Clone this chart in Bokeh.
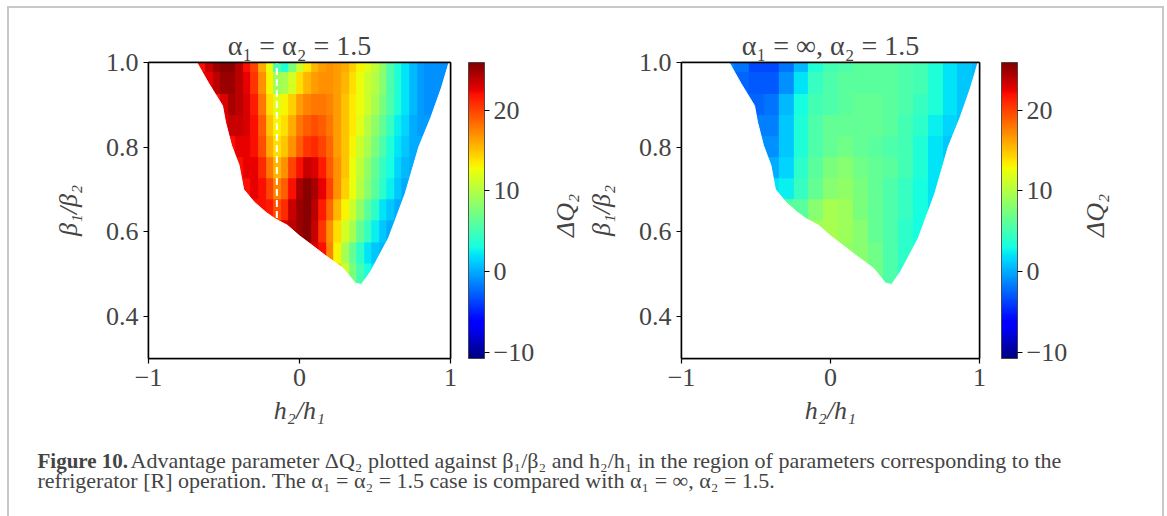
import numpy as np
from bokeh.plotting import figure
from bokeh.models import (LinearColorMapper, ColorBar, FixedTicker, Label, Range1d,
                          LinearAxis, Spacer)
from bokeh.layouts import column, row
from bokeh.embed import file_html
from bokeh.resources import INLINE

# ---------------- data ----------------
TITLE_L = "α₁ = α₂ = 1.5"
TITLE_R = "α₁ = ∞, α₂ = 1.5"
X_TICKS = [-1, 0, 1]
Y_TICKS = [0.4, 0.6, 0.8, 1.0]
CB_TICKS = [-10, 0, 10, 20]
CB_LOW, CB_HIGH = -10.8, 25.9

# grid rows: beta = 0.45, 0.50, ..., 1.00 (bottom to top)
BETA_ROWS = [0.45, 0.50, 0.55, 0.60, 0.65, 0.70, 0.75, 0.80, 0.85, 0.90, 0.95, 1.00]
# left panel columns: h = -0.70 ... 1.00 step 0.05
H_LEFT = [-0.70, -0.65, -0.60, -0.55, -0.50, -0.45, -0.40, -0.35, -0.30, -0.25, -0.20, -0.15,
          -0.10, -0.05, 0.00, 0.05, 0.10, 0.15, 0.20, 0.25, 0.30, 0.35, 0.40, 0.45, 0.50,
          0.55, 0.60, 0.65, 0.70, 0.75, 0.80, 0.85, 0.90, 0.95, 1.00]
DQ_LEFT = [
    [18]*19 + [14, 10, 7, 5, 3.5] + [2.5]*11,                                   # 0.45
    [22]*17 + [21, 18, 14.5, 11, 7.5, 5, 3, 2] + [2]*10,                        # 0.50
    [23]*17 + [22, 17.5, 13, 9.5, 6.5, 4, 2, 1, 0.5] + [0.5]*9,                 # 0.55
    [23]*13 + [24, 25, 25.5, 23.5, 20.5, 17, 14, 11.5, 9.5, 6.5, 4.5, 2.5, 1, 0, 0, 0, 0, 0, 0, 0, 0, 0],  # 0.60
    [22]*10 + [21.5, 19.5, 21, 23.5, 25, 25.5, 24, 21.5, 18.5, 15.5, 13, 11, 8.5, 6, 4, 2, 1, 0, 0, 0, 0, 0, 0, 0, 0],  # 0.65
    [22]*8 + [22.5, 22, 20, 17.5, 19, 22, 24.5, 25.5, 24.5, 22.5, 20, 17, 14.5, 12.5, 10, 8, 6, 4, 2.5, 1, 0, 0, 0, 0, 0, 0, 0],  # 0.70
    [22]*7 + [22.5, 22.5, 21, 18, 15.5, 17, 20, 22, 23.5, 23, 21.5, 19, 17, 15, 12.5, 10.5, 8.5, 6.5, 4.5, 3, 1.5, 0.5, 0, 0, 0, 0, 0, 0],  # 0.75
    [22]*6 + [22.5, 22.5, 22, 19.5, 16, 14, 15, 17, 19, 20.5, 21, 20, 18.5, 16.5, 15, 13, 11, 9.5, 7.5, 5.5, 3.5, 2, 1, 0, 0, 0, 0, 0, 0],  # 0.80
    [22.5]*5 + [23.5, 23.5, 23, 22, 19, 15, 13, 14, 16, 18, 19, 19.5, 19, 18, 16.5, 15, 13.5, 12, 10, 8.5, 6.5, 4.5, 2.5, 1.5, 0, -0.5, -0.5, -0.5, -0.5, -0.5],  # 0.85
    [22, 22, 22, 22, 23, 24.5, 24, 23, 21.5, 18, 14, 12, 13, 14.5, 16.5, 17.5, 18, 18, 17.5, 16.5, 15, 13.5, 12.5, 11, 9.5, 7.5, 5.5, 3.5, 2, 0.5, -0.5, -1, -1, -1, -1],  # 0.90
    [22.5, 22.5, 22.5, 24, 25, 25, 24, 22.5, 20.5, 17, 13, 9, 9.5, 11.5, 14, 15.5, 16.5, 17, 17, 16.5, 15.5, 14, 12.5, 11, 10, 8, 5.5, 3.5, 2, 0.5, -0.5, -1, -1, -1, -1],  # 0.95
    [20, 22, 23.5, 25, 25.5, 25.5, 24, 22, 20, 16, 12.5, 5.5, 3.5, 7.5, 11, 13.5, 15.5, 16.5, 17, 16.5, 16, 14.5, 13, 12, 10.5, 8.5, 5.5, 3.5, 2, 0.5, -0.5, -1, -1, -1, -1],  # 1.00
]
# right panel columns: h = -0.7 ... 1.0 step 0.1
H_RIGHT = [-0.7, -0.6, -0.5, -0.4, -0.3, -0.2, -0.1, 0.0, 0.1, 0.2, 0.3, 0.4, 0.5, 0.6, 0.7, 0.8, 0.9, 1.0]
DQ_RIGHT = [
    [6.5]*10 + [6.5, 5, 4, 4, 4, 4, 4, 4],                                      # 0.45
    [7]*11 + [5.5, 4, 4, 4, 4, 4, 4],                                           # 0.50
    [8.5]*9 + [8, 7, 5.5, 4, 3, 3, 3, 3, 3],                                    # 0.55
    [9, 9, 9, 9, 9, 9, 9, 9.5, 9, 8, 6.5, 5.5, 4, 3, 3, 3, 3, 3],               # 0.60
    [6, 6, 6, 6, 6, 6, 8, 9.5, 9, 7.5, 6.5, 5.5, 4.5, 3, 2, 2, 2, 2],           # 0.65
    [2, 2, 2, 2, 2.5, 4.5, 6.5, 8, 8.5, 7.5, 6.5, 5.5, 4.5, 3, 2, 2, 2, 2],     # 0.70
    [0, 0, 0, 0, 1.5, 4, 6, 7.5, 8, 7, 6.5, 6, 5, 3.5, 2, 1.5, 1.5, 1.5],       # 0.75
    [-1, -1, -1, -1, 1, 3.5, 5.5, 6.5, 7, 6.5, 6, 5.5, 5, 3.5, 2, 1, 1, 1],     # 0.80
    [-1.5, -1.5, -1.5, -1.5, 1, 3.5, 5.5, 6.5, 6.5, 6.5, 6.5, 6, 5, 4, 2.5, 1.5, 1, 1],  # 0.85
    [-2.5, -2.5, -2.5, -2, 0.5, 3, 5, 5.5, 6, 6.5, 6.5, 6, 5.5, 4.5, 3.5, 2, 1, 1],      # 0.90
    [-2, -2.5, -3, -3, -1, 2, 4.5, 5.5, 6, 6, 6, 6, 5.5, 5, 3.5, 2, 1, 0.5],    # 0.95
    [-1, -2, -3.5, -3.5, -2, 0.5, 3.5, 5, 5.5, 6, 6, 6, 5.5, 5, 3.5, 2, 1, 0.5],# 1.00
]
# boundary of the refrigerator region (same in both panels)
EDGE_LEFT_H = [-0.68, -0.60, -0.51, -0.49, -0.45, -0.40, -0.37, -0.30, -0.22, -0.16, -0.08, 0.00, 0.09, 0.17, 0.29, 0.37, 0.41]
EDGE_LEFT_B = [1.00, 0.95, 0.898, 0.859, 0.804, 0.757, 0.700, 0.670, 0.645, 0.630, 0.615, 0.590, 0.566, 0.544, 0.513, 0.478, 0.475]
EDGE_RIGHT_H = [0.41, 0.47, 0.59, 0.70, 0.79, 0.87, 0.94, 0.99]
EDGE_RIGHT_B = [0.475, 0.505, 0.585, 0.690, 0.800, 0.870, 0.940, 1.000]
DASH_H = [-0.15, -0.15]
DASH_B = [0.632, 1.0]

CAPTION_BOLD = "Figure 10."
CAPTION_1 = ("Advantage parameter ΔQ₂ plotted against β₁/β₂ and h₂/h₁ in the region of "
             "parameters corresponding to the")
CAPTION_2 = "refrigerator [R] operation. The α₁ = α₂ = 1.5 case is compared with α₁ = ∞, α₂ = 1.5."
CB_LABEL = "ΔQ₂"

# ---------------- colour map (jet) ----------------
def jet(n=256):
    t = np.linspace(0, 1, n)
    r = np.interp(t, [0, 0.35, 0.66, 0.89, 1], [0, 0, 1, 1, 0.5])
    g = np.interp(t, [0, 0.125, 0.375, 0.64, 0.91, 1], [0, 0, 1, 1, 0, 0])
    b = np.interp(t, [0, 0.11, 0.34, 0.65, 1], [0.5, 1, 1, 0, 0])
    return ["#%02x%02x%02x" % (int(round(255 * a)), int(round(255 * c)), int(round(255 * d)))
            for a, c, d in zip(r, g, b)]

JET = jet()
SERIF = "Liberation Serif"
BORDER = "#c8c8c8"
ROW_H = 432
TOP_B, BOT_B = 54, 82


def gap(w, h):
    return Spacer(width=w, height=h)


def grey(w, h):
    return Spacer(width=w, height=h, styles={"background-color": BORDER})


def blank(width, height, top=0, bottom=0):
    f = figure(width=width, height=height, x_range=Range1d(0, 1), y_range=Range1d(0, 1),
               output_backend="svg", toolbar_location=None, x_axis_location=None,
               y_axis_location=None, min_border=0, min_border_top=top, min_border_bottom=bottom,
               outline_line_color=None)
    f.grid.visible = False
    return f


def panel(width, left, right, title, hcols, rows, dashed):
    p = figure(width=width, height=ROW_H, x_range=Range1d(-1, 1), y_range=Range1d(0.3, 1.0),
               output_backend="svg", toolbar_location=None,
               min_border_left=left, min_border_right=right,
               min_border_top=TOP_B, min_border_bottom=BOT_B)
    p.grid.visible = False
    p.outline_line_color = "black"
    p.outline_line_width = 1.5
    p.background_fill_color = "white"

    mapper = LinearColorMapper(palette=JET, low=CB_LOW, high=CB_HIGH)
    Z = np.array(rows, dtype=float)
    dh_cell = BETA_ROWS[1] - BETA_ROWS[0]
    dw_cell = hcols[1] - hcols[0]
    p.image(image=[Z], x=hcols[0] - dw_cell / 2, y=BETA_ROWS[0] - dh_cell / 2,
            dw=dw_cell * len(hcols), dh=dh_cell * len(BETA_ROWS), color_mapper=mapper)

    mask_h = [-1.3, -1.3, EDGE_LEFT_H[0]] + EDGE_LEFT_H + EDGE_RIGHT_H + [EDGE_RIGHT_H[-1], 1.3, 1.3]
    mask_b = [0.2, 1.2, 1.2] + EDGE_LEFT_B + EDGE_RIGHT_B + [1.2, 1.2, 0.2]
    p.patch(mask_h, mask_b, fill_color="white", line_color="white", line_width=1)
    if dashed:
        p.line(DASH_H, DASH_B, line_color="white", line_width=2, line_dash="7 4")

    p.title.text = title
    p.title.align = "center"
    p.title.text_font = SERIF
    p.title.text_font_size = "28px"
    p.title.text_font_style = "normal"
    p.title.standoff = 4

    xa, ya = p.below[0], p.left[0]
    for ax in (xa, ya):
        ax.major_label_text_font = SERIF
        ax.major_label_text_font_size = "26px"
        ax.axis_label_text_font = SERIF
        ax.axis_label_text_font_size = "26px"
        ax.axis_label_text_font_style = "italic"
        ax.axis_line_width = 1.5
        ax.major_tick_line_width = 1.2
        ax.major_tick_out = 5
        ax.major_tick_in = 0
        ax.minor_tick_line_color = None
        ax.major_label_standoff = 5
    xa.ticker = FixedTicker(ticks=X_TICKS)
    xa.major_label_overrides = {-1: "−1", 0: "0", 1: "1"}
    xa.axis_label = "h₂/h₁"
    xa.axis_label_standoff = 7
    ya.ticker = FixedTicker(ticks=Y_TICKS)
    ya.major_label_overrides = {0.4: "0.4", 0.6: "0.6", 0.8: "0.8", 1.0: "1.0"}
    ya.axis_label = "β₁/β₂"
    ya.axis_label_standoff = 20

    # plain frame lines on top and right, drawn above the glyphs
    for side in ("right", "above"):
        p.add_layout(LinearAxis(ticker=FixedTicker(ticks=[]), axis_line_width=1.5,
                                major_label_text_font_size="0px", major_label_standoff=0,
                                major_tick_line_color=None, major_tick_out=0,
                                minor_tick_line_color=None, minor_tick_out=0), side)

    cb = ColorBar(color_mapper=mapper, location=(320, 0), width=16, height=296,
                  padding=0, margin=0, ticker=FixedTicker(ticks=CB_TICKS),
                  major_label_overrides={-10: "−10", 0: "0", 10: "10", 20: "20"},
                  major_label_text_font=SERIF, major_label_text_font_size="26px",
                  major_tick_out=5, major_tick_in=0, major_tick_line_color="black",
                  major_tick_line_width=1.2, minor_tick_line_color=None,
                  bar_line_color="#333333", bar_line_width=0.8,
                  label_standoff=4, background_fill_color=None, border_line_color=None)
    p.add_layout(cb)
    return p


def cb_label(width, x):
    f = blank(width, ROW_H, TOP_B, BOT_B)
    f.add_layout(Label(x=x, y=143, x_units="screen", y_units="screen", text=CB_LABEL,
                       angle=np.pi / 2, text_align="center", text_baseline="middle",
                       text_font=SERIF, text_font_size="26px", text_font_style="italic"))
    return f


f1 = panel(535, 139, 94, TITLE_L, H_LEFT, DQ_LEFT, True)
q1 = cb_label(39, 20.5)
f2 = panel(492, 94, 96, TITLE_R, H_RIGHT, DQ_RIGHT, False)
q2 = cb_label(87, 19.5)

f3 = blank(1153, 76)
f3.add_layout(Label(x=28, y=56, x_units="screen", y_units="screen", text=CAPTION_BOLD,
                    text_font=SERIF, text_font_size="21px", text_font_style="bold",
                    text_baseline="alphabetic"))
f3.add_layout(Label(x=121, y=56, x_units="screen", y_units="screen", text=CAPTION_1,
                    text_font=SERIF, text_font_size="22px", text_baseline="alphabetic"))
f3.add_layout(Label(x=28, y=36, x_units="screen", y_units="screen", text=CAPTION_2,
                    text_font=SERIF, text_font_size="22px", text_baseline="alphabetic"))

layout = column(
    gap(1167, 6),
    row(gap(7, 2), grey(1157, 2), gap(3, 2)),
    row(gap(7, ROW_H), grey(2, ROW_H), f1, q1, f2, q2, grey(2, ROW_H), gap(3, ROW_H)),
    row(gap(7, 76), grey(2, 76), f3, grey(2, 76), gap(3, 76)),
)
open("out.html", "w").write(file_html(layout, INLINE))
